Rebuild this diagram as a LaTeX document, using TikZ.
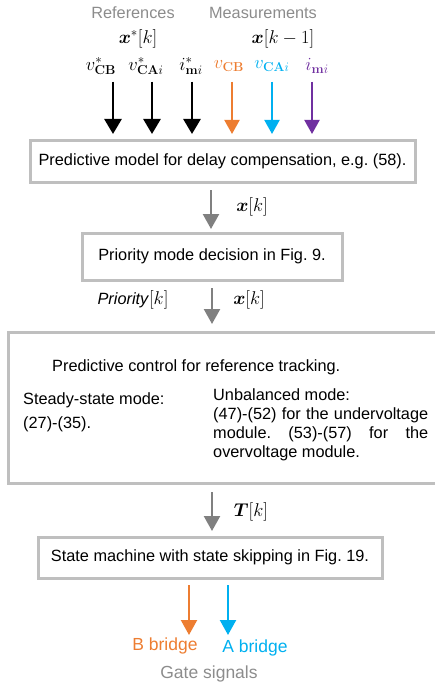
\RequirePackage{fix-cm}
\documentclass[tikz,border=0pt]{standalone}
\usepackage{bm}
\usepackage[no-math]{fontspec}
\setmainfont{Liberation Sans}
\usetikzlibrary{arrows.meta}
\definecolor{corange}{RGB}{237,125,49}
\definecolor{cblue}{RGB}{0,176,240}
\definecolor{cpurple}{RGB}{112,48,160}
\definecolor{cgraytext}{RGB}{140,140,140}
\definecolor{carrow}{RGB}{128,128,128}
\definecolor{cborder}{RGB}{191,191,191}
\frenchspacing
\tikzset{
  txt/.style={inner sep=0pt, font=\fontsize{16.3}{19}\selectfont},
  mtxt/.style={inner sep=0pt, font=\fontsize{18.5}{21}\selectfont},
  bigtxt/.style={inner sep=0pt, font=\fontsize{17.5}{20}\selectfont},
  box/.style={draw=cborder, line width=3pt, inner sep=0pt},
  blkarrow/.style={-{Triangle[width=17pt,length=15pt]}, line width=2.7pt},
  colarrow/.style={-{Triangle[width=15pt,length=14pt]}, line width=2pt},
  grayarrow/.style={-{Triangle[width=16pt,length=15pt]}, line width=2.4pt, draw=carrow, color=carrow},
  botarrow/.style={-{Triangle[width=16pt,length=15pt]}, line width=2.2pt},
}
\begin{document}
\begin{tikzpicture}[x=1pt,y=-1pt]
\useasboundingbox (0,0) rectangle (435,690);
\clip (0,0) rectangle (435,690);
% header labels
\node[txt, text=cgraytext] (refs) at (133,13) {References};
\node[txt, text=cgraytext] (meas) at (263,13) {Measurements};
\node[mtxt] (xstar) at (138,39) {$\bm{x}^{*}[k]$};
\node[mtxt] (xkm1) at (283,39) {$\bm{x}[k-1]$};
\node[mtxt] (l1) at (101,66) {$v^{*}_{\mathbf{CB}}$};
\node[mtxt] (l2) at (146,66) {$v^{*}_{\mathbf{CA}i}$};
\node[mtxt] (l3) at (191,66) {$i^{*}_{\mathbf{m}i}$};
\node[mtxt, text=corange] (l4) at (229,66) {$v_{\mathbf{CB}}$};
\node[mtxt, text=cblue] (l5) at (272,66) {$v_{\mathbf{CA}i}$};
\node[mtxt, text=cpurple] (l6) at (317,66) {$i_{\mathbf{m}i}$};
% boxes
\node[box, minimum width=385pt, minimum height=42pt] (box1) at (222.5,161)
  {\fontsize{16.3}{19}\selectfont Predictive model for delay compensation, e.g. (58).};
\node[box, minimum width=260pt, minimum height=47pt] (box2) at (212,256.5)
  {\fontsize{16.3}{19}\selectfont Priority mode decision in Fig. 9.};
\node[box, minimum width=437pt, minimum height=151pt] (box3) at (226.5,407.5) {};
\node[box, minimum width=344pt, minimum height=41pt] (box4) at (210,557.5)
  {\fontsize{16.3}{19}\selectfont State machine with state skipping in Fig. 19.};
% box3 contents
\node[txt, anchor=base west] (t0) at (52,371) {Predictive control for reference tracking.};
\node[txt, anchor=base west] (s1) at (23,404) {Steady-state mode:};
\node[txt, anchor=base west] (s2) at (23,428) {(27)-(35).};
\node[txt, anchor=base west] (u1) at (213,400) {Unbalanced mode:};
\node[txt, anchor=base west] (u2) at (213,419) {\makebox[215pt][s]{(47)-(52) for the undervoltage}};
\node[txt, anchor=base west] (u3) at (213,438) {\makebox[215pt][s]{module. (53)-(57) for the}};
\node[txt, anchor=base west] (u4) at (213,457) {overvoltage module.};
% top arrows
\foreach \n/\x/\c/\s in {1/113/black/blkarrow,2/152/black/blkarrow,3/192/black/blkarrow,4/232/corange/colarrow,5/272/cblue/colarrow,6/312/cpurple/colarrow}{
  \coordinate (ts\n) at (\x,82);
  \coordinate (te\n) at (\x,134);
  \draw[\s, draw=\c, fill=\c] (ts\n) -- (te\n);
}
% gray arrows
\coordinate (g1s) at (211,190); \coordinate (g1e) at (211,229);
\coordinate (g2s) at (212,288); \coordinate (g2e) at (212,324);
\coordinate (g3s) at (212,492); \coordinate (g3e) at (212,531);
\draw[grayarrow] (g1s) -- (g1e);
\draw[grayarrow] (g2s) -- (g2e);
\draw[grayarrow] (g3s) -- (g3e);
\node[mtxt] (xk1) at (252,207) {$\bm{x}[k]$};
\node[txt] (prio) at (133,300) {\textit{Priority}\fontsize{18.5}{21}\selectfont$[k]$};
\node[mtxt] (xk2) at (249,300) {$\bm{x}[k]$};
\node[mtxt] (tk) at (251,512) {$\bm{T}[k]$};
% bottom arrows
\coordinate (b1s) at (189,585); \coordinate (b1e) at (189,635);
\coordinate (b2s) at (228,585); \coordinate (b2e) at (228,635);
\draw[botarrow, draw=corange, fill=corange] (b1s) -- (b1e);
\draw[botarrow, draw=cblue, fill=cblue] (b2s) -- (b2e);
\node[bigtxt, text=corange] (bb) at (165,646) {B bridge};
\node[bigtxt, text=cblue] (ab) at (255,648) {A bridge};
\node[bigtxt, text=cgraytext] (gs) at (209,674) {Gate signals};
\end{tikzpicture}
\end{document}
